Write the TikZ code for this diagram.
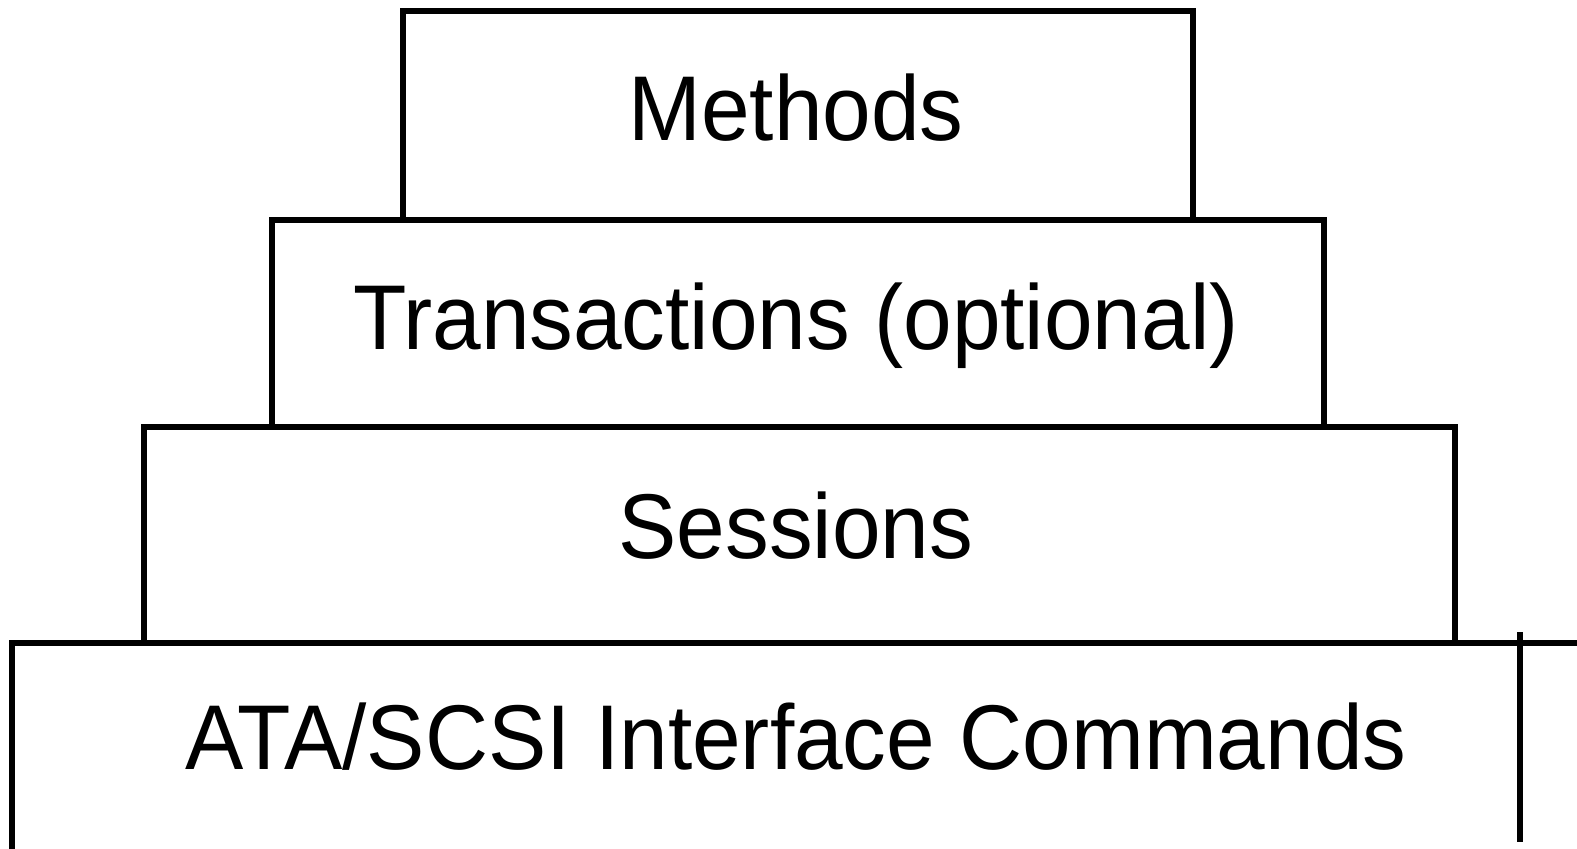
\documentclass[tikz,border=0pt]{standalone}
\usepackage{fontspec}
\setmainfont{Liberation Sans}
\begin{document}
\begin{tikzpicture}[x=0.5pt,y=-0.5pt,
  layerbox/.style={draw=black,line width=2.75pt,inner sep=0pt,outer sep=0pt},
  layertext/.style={anchor=base,inner sep=0pt,font=\fontsize{46}{52}\selectfont},
  edge/.style={draw=black,line width=2.75pt}]
\useasboundingbox (0,0) rectangle (1577,849);
% boxes
\draw[layerbox] (403,11) rectangle (1193,220);
\draw[layerbox] (272,220) rectangle (1324,427);
\draw[layerbox] (144,427) rectangle (1455,643);
\coordinate (ataBL) at (12,849);
\coordinate (ataTL) at (12,643);
\coordinate (ataTR) at (1577,643);
\draw[edge] (ataBL) -- (ataTL) -- (ataTR);
\coordinate (divT) at (1520,632);
\coordinate (divB) at (1520,842);
\draw[edge] (divT) -- (divB);
% labels
\node[layertext] (methods) at (796,141) {\scalebox{0.95}[1]{Methods}};
\node[layertext] (trans) at (796,350) {\scalebox{0.95}[1]{Transactions (optional)}};
\node[layertext] (sess) at (796,558) {\scalebox{0.95}[1]{Sessions}};
\node[layertext] (ata) at (796,769) {\scalebox{0.95}[1]{ATA/SCSI Interface Commands}};
\end{tikzpicture}
\end{document}
